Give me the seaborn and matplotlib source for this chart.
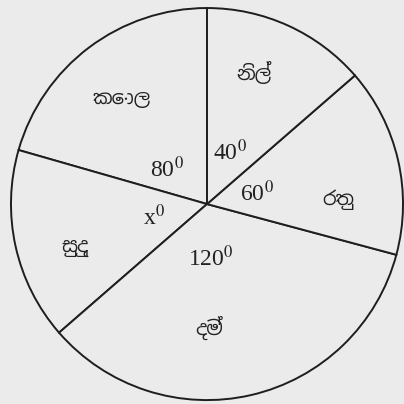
import numpy as np
import matplotlib
matplotlib.use("Agg")
import matplotlib.pyplot as plt
import seaborn as sns
from matplotlib import font_manager

# Datos (angulos tal como estan trazados)
colores = ["කොල", "සුදු", "දම්", "රතු", "නිල්"]
angulos_dibujados = [74, 57, 124, 56, 49]
etiquetas_angulo = ["80$^0$", "x$^0$", "120$^0$", "60$^0$", "40$^0$"]

# posicion de los textos (angulo en grados, radio)
pos_nombres = [(129, 0.69), (198, 0.71), (-89, 0.63), (2, 0.67), (70, 0.71)]
pos_angulos = [(139, 0.27), (194, 0.28), (-86, 0.28), (12, 0.26), (66, 0.29)]

sns.set_style("white")
plt.rcParams["mathtext.fontset"] = "stix"
nombres = sorted({f.name for f in font_manager.fontManager.ttflist})
sinhala = [n for n in nombres if "Sinhala" in n or "Iskoola" in n]
plt.rcParams["font.family"] = sinhala + ["DejaVu Sans"]

fondo = "#ebebeb"
fig = plt.figure(figsize=(4.04, 4.04), dpi=100, facecolor=fondo)
ax = fig.add_axes([0, 0, 1, 1])
ax.set_facecolor(fondo)

wedges, textos = ax.pie(
    angulos_dibujados, labels=colores, startangle=90, counterclock=True,
    colors=[fondo] * len(colores), labeldistance=0.69,
    wedgeprops=dict(edgecolor="#1e1e1e", linewidth=1.4),
    textprops=dict(fontsize=14, color="#222222", ha="center", va="center"))

for t, (a, r) in zip(textos, pos_nombres):
    t.set_position((r * np.cos(np.deg2rad(a)), r * np.sin(np.deg2rad(a))))
    t.set_ha("center")

for t, (a, r) in zip(etiquetas_angulo, pos_angulos):
    ax.text(r * np.cos(np.deg2rad(a)), r * np.sin(np.deg2rad(a)), t, fontsize=17,
            family="Liberation Serif", color="#222222", ha="center", va="center")

ax.set_aspect("equal")
ax.set_xlim(-1.056, 1.005)
ax.set_ylim(-1.020, 1.041)
ax.axis("off")
fig.savefig("out.png", dpi=100, facecolor=fondo)
